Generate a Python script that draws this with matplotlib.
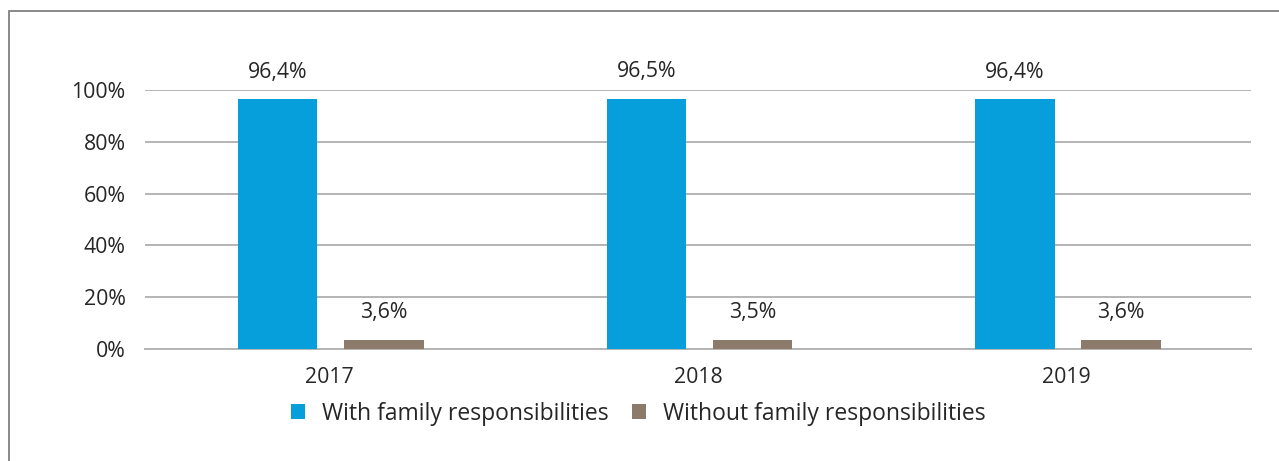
import matplotlib
matplotlib.use("Agg")
import matplotlib.pyplot as plt
import numpy as np
from matplotlib.patches import Rectangle

plt.rcParams['font.family'] = ['Open Sans', 'DejaVu Sans']

years = ['2017', '2018', '2019']
with_family = [96.4, 96.5, 96.4]
without_family = [3.6, 3.5, 3.6]
series_names = ['With family responsibilities', 'Without family responsibilities']

blue = '#069fdb'
brown = '#8c7b6a'
text_col = '#262626'
grid_col = '#b4b4b4'

fig = plt.figure(figsize=(12.79, 4.61), dpi=100)
ax = fig.add_axes([0.1134, 0.243, 0.8646, 0.562])

# outer frame line (top and left show, the rest runs off the edge)
fig.patches.append(Rectangle((9 / 1279, -0.1), 1.2, 1 - 11 / 461 + 0.1,
                             transform=fig.transFigure, fill=False,
                             edgecolor='#808080', linewidth=1.3))

x = np.arange(len(years))
w = 0.215
b1 = ax.bar(x - 0.14, with_family, w, color=blue, label=series_names[0], zorder=3)
b2 = ax.bar(x + 0.148, without_family, w, color=brown, label=series_names[1], zorder=3)

for bars, vals in [(b1, with_family), (b2, without_family)]:
    for rect, v in zip(bars, vals):
        ax.annotate(f"{v:.1f}%".replace('.', ','),
                    (rect.get_x() + rect.get_width() / 2, v),
                    xytext=(0, 12), textcoords='offset points',
                    ha='center', va='bottom', fontsize=15.3, color=text_col,
                    annotation_clip=False)

ax.set_xlim(-0.5, 2.5)
ax.set_ylim(0, 100)
ax.set_yticks([0, 20, 40, 60, 80, 100])
ax.set_yticklabels([f"{t}%" for t in range(0, 101, 20)])
ax.set_xticks(x)
ax.set_xticklabels(years)
ax.tick_params(axis='both', length=0, labelsize=15.3, labelcolor=text_col)
ax.tick_params(axis='y', pad=14)
ax.tick_params(axis='x', pad=13)

ax.grid(axis='y', color=grid_col, linewidth=1.4, zorder=0)
for side in ['top', 'right', 'left']:
    ax.spines[side].set_visible(False)
ax.spines['bottom'].set_color(grid_col)
ax.spines['bottom'].set_linewidth(1.4)

fig.legend(loc='center', bbox_to_anchor=(0.499, 0.103), ncol=2, frameon=False,
           fontsize=16.5, handlelength=0.62, handleheight=0.62, handletextpad=0.75,
           columnspacing=1.0, labelcolor=text_col)

fig.savefig("out.png", dpi=100)
